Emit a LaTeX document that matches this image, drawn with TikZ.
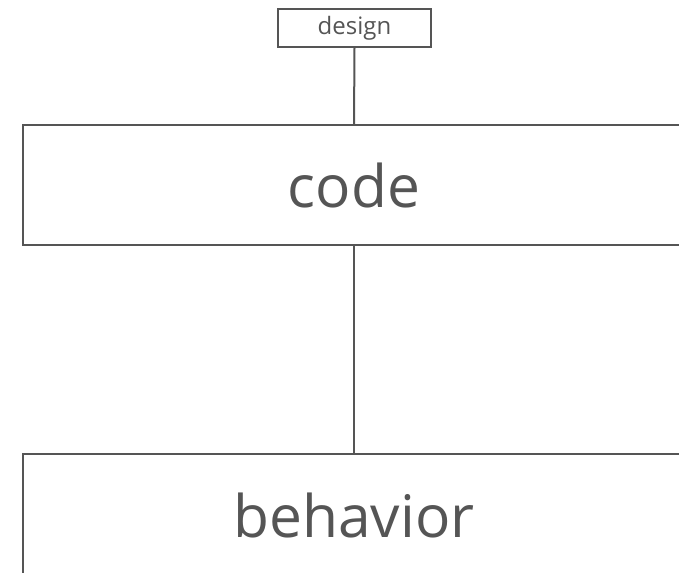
\documentclass[tikz,border=0pt]{standalone}
\usepackage{fontspec}
\setmainfont{Open Sans}
\usetikzlibrary{positioning}
\definecolor{linegray}{HTML}{555555}
\begin{document}
\begin{tikzpicture}[x=0.75pt, y=-0.75pt,
    layer/.style={draw=linegray, line width=1.5pt, text=linegray,
        minimum width=496.5pt, minimum height=90pt, inner sep=0pt, font=\fontsize{44}{50}\selectfont},
    tag/.style={draw=linegray, line width=1.5pt, text=linegray,
        minimum width=114.75pt, minimum height=28.5pt, inner sep=0pt, font=\fontsize{18}{20}\selectfont}]
    \useasboundingbox (0,0) rectangle (679,573);
    \node[tag] (design) at (354.5,28) {design};
    \node[layer] (code) at (354,185.5) {code};
    % 下の箱は画面の外まで続く
    \node[layer, minimum height=93pt] (behavior) at (354,516) {behavior};
    \draw[linegray, line width=1.5pt] (design.south) -- (code.north);
    \draw[linegray, line width=1.5pt] (code.south) -- (behavior.north);
\end{tikzpicture}
\end{document}
